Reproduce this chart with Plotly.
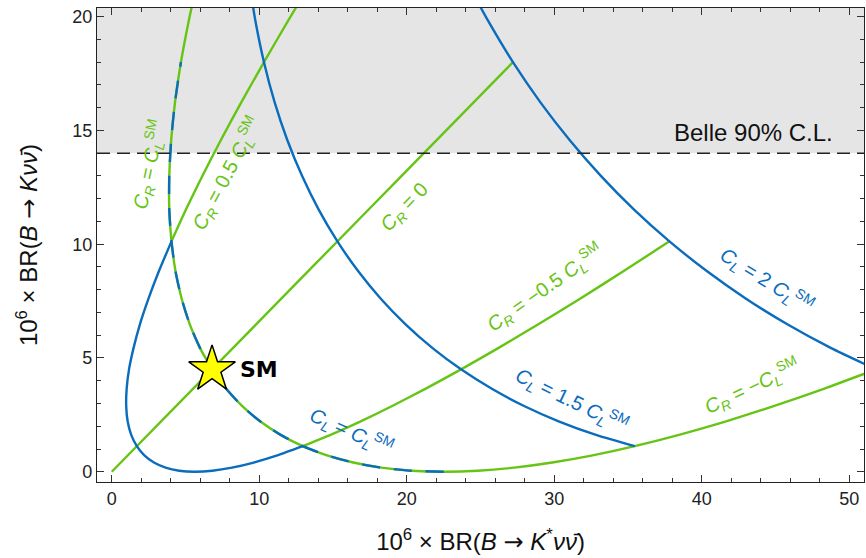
import plotly.graph_objects as go

# ---- branching-ratio trajectories (10^6 x BR), x = B->K* nu nu, y = B->K nu nu ----
# C_L = 0.5 C_L^SM, C_R scanned from -C_L^SM to +C_L^SM
cl05_x = [12.95, 11.22, 9.62, 8.15, 6.82, 5.63, 4.57, 3.65, 2.86, 2.21, 1.70,
          1.32, 1.08, 0.98, 1.01, 1.17, 1.48, 1.91, 2.49, 3.20, 4.05]
cl05_y = [1.125, 0.72, 0.405, 0.18, 0.045, 0.0, 0.045, 0.18, 0.405, 0.72, 1.125,
          1.62, 2.205, 2.88, 3.645, 4.5, 5.445, 6.48, 7.605, 8.82, 10.125]

# C_L = C_L^SM
cl10_x = [22.51, 20.33, 18.28, 16.37, 14.59, 12.95, 11.45, 10.08, 8.85, 7.76, 6.80,
          5.98, 5.29, 4.74, 4.32, 4.05, 3.90, 3.90, 4.03, 4.29, 4.69]
cl10_y = [0.0, 0.045, 0.18, 0.405, 0.72, 1.125, 1.62, 2.205, 2.88, 3.645, 4.5,
          5.445, 6.48, 7.605, 8.82, 10.125, 11.52, 13.005, 14.58, 16.245, 18.0]

# C_L = 1.5 C_L^SM
cl15_x = [35.46, 32.83, 30.34, 27.99, 25.77, 23.68, 21.73, 19.92, 18.24, 16.70,
          15.30, 14.03, 12.90, 11.90, 11.04, 10.32, 9.73, 9.49]
cl15_y = [1.125, 1.62, 2.205, 2.88, 3.645, 4.5, 5.445, 6.48, 7.605, 8.82,
          10.125, 11.52, 13.005, 14.58, 16.245, 18.0, 19.845, 20.80]

# C_L = 2 C_L^SM
cl20_x = [51.82, 48.74, 45.80, 43.00, 40.34, 37.81, 35.41, 33.16, 31.04, 29.05,
          27.20, 25.49, 24.68]
cl20_y = [4.5, 5.445, 6.48, 7.605, 8.82, 10.125, 11.52, 13.005, 14.58, 16.245,
          18.0, 19.845, 20.80]

# C_R = C_L^SM
crp10_x = [6.80, 5.98, 5.29, 4.74, 4.32, 4.05, 3.90, 3.90, 4.03, 4.29, 4.69, 5.23, 5.55]
crp10_y = [4.5, 5.445, 6.48, 7.605, 8.82, 10.125, 11.52, 13.005, 14.58, 16.245,
           18.0, 19.845, 20.80]

# C_R = 0.5 C_L^SM
crp05_x = [4.05, 5.03, 6.15, 7.40, 8.79, 10.32, 11.98, 12.86]
crp05_y = [10.125, 11.52, 13.005, 14.58, 16.245, 18.0, 19.845, 20.80]

# C_R = 0
cr00_x = [0.0, 6.8, 13.6, 20.4, 27.2]
cr00_y = [0.0, 4.5, 9.0, 13.5, 18.0]

# C_R = -0.5 C_L^SM
crm05_x = [12.95, 14.83, 16.84, 18.98, 21.26, 23.68, 26.23, 28.92, 31.75, 34.71, 37.81]
crm05_y = [1.125, 1.62, 2.205, 2.88, 3.645, 4.5, 5.445, 6.48, 7.605, 8.82, 10.125]

# C_R = -C_L^SM
crm10_x = [6.80, 7.76, 8.85, 10.08, 11.45, 12.95, 14.59, 16.37, 18.28, 20.33, 22.51,
           24.83, 27.28, 29.87, 32.60, 35.46, 38.46, 41.60, 44.87, 48.27, 51.82]
crm10_y = [4.5, 3.645, 2.88, 2.205, 1.62, 1.125, 0.72, 0.405, 0.18, 0.045, 0.0,
           0.045, 0.18, 0.405, 0.72, 1.125, 1.62, 2.205, 2.88, 3.645, 4.5]

sm_point = (6.8, 4.5)
belle_limit = 14.0

BLUE = "#0a6cbd"
GREEN = "#66c414"
FONT = "Liberation Sans"
LW = 2.4

fig = go.Figure()


def curve(x, y, color, dash="solid"):
    fig.add_trace(go.Scatter(
        x=x, y=y, mode="lines", hoverinfo="skip",
        line=dict(color=color, width=LW, shape="spline", smoothing=0.6, dash=dash),
        showlegend=False, cliponaxis=True,
    ))


# green C_R contours
curve(crp10_x, crp10_y, GREEN)
curve(crp05_x, crp05_y, GREEN)
curve(cr00_x, cr00_y, GREEN)
curve(crm05_x, crm05_y, GREEN)
curve(crm10_x, crm10_y, GREEN)
# blue C_L contours
curve(cl05_x, cl05_y, BLUE)
curve(cl15_x, cl15_y, BLUE)
curve(cl20_x, cl20_y, BLUE)
# C_L = C_L^SM coincides with C_R = +-C_L^SM: drawn dashed over the green
curve(cl10_x, cl10_y, BLUE, dash="18px,14px")

# SM star
fig.add_trace(go.Scatter(
    x=[sm_point[0]], y=[sm_point[1]], mode="markers", hoverinfo="skip",
    marker=dict(symbol="star", size=35, color="#ffff00",
                line=dict(color="black", width=1.5)),
    showlegend=False,
))

# excluded region above the Belle bound
fig.add_shape(type="rect", xref="paper", x0=0, x1=1, yref="y",
              y0=belle_limit, y1=21, fillcolor="#e5e5e5",
              line_width=0, layer="below")
fig.add_shape(type="line", xref="paper", x0=0, x1=1, yref="y",
              y0=belle_limit, y1=belle_limit,
              line=dict(color="#222222", width=1.4, dash="13px,7px"))

CR = "<i>C</i><sub><i>R</i></sub>"
CL = "<i>C</i><sub><i>L</i></sub>"
CLSM = "<i>C</i><sub><i>L</i></sub><sup>SM</sup>"

labels = [
    (2.55, 13.5, f"{CR} = {CLSM}", GREEN, -78),
    (7.8, 13.1, f"{CR} = 0.5 {CLSM}", GREEN, -62),
    (19.9, 11.6, f"{CR} = 0", GREEN, -46),
    (29.4, 8.1, f"{CR} = −0.5 {CLSM}", GREEN, -35),
    (44.4, 8.4, f"{CL} = 2 {CLSM}", BLUE, 32),
    (31.2, 3.15, f"{CL} = 1.5 {CLSM}", BLUE, 26),
    (16.2, 1.75, f"{CL} = {CLSM}", BLUE, 24),
    (43.4, 3.75, f"{CR} = −{CLSM}", GREEN, -25),
]
for x, y, text, color, ang in labels:
    fig.add_annotation(x=x, y=y, text=text, showarrow=False, textangle=ang,
                       font=dict(family=FONT, size=20, color=color))

fig.add_annotation(x=49.0, y=14.9, text="Belle 90% C.L.", showarrow=False,
                   xanchor="right", font=dict(family=FONT, size=24, color="#111111"))
fig.add_annotation(x=8.55, y=4.48, text="<b>SM</b>", showarrow=False,
                   xanchor="left", font=dict(family="DejaVu Sans", size=22, color="black"))

axis_common = dict(
    showline=True, linecolor="#222222", linewidth=1.3, mirror="ticks",
    ticks="inside", ticklen=7, tickwidth=1.2, tickcolor="#333333",
    showgrid=False, zeroline=False,
    tickfont=dict(family=FONT, size=18, color="#222222"),
)

ARROW = "<span style='font-family:DejaVu Sans'>→</span>"

fig.update_xaxes(
    range=[-1.0, 51.0], tick0=0, dtick=10,
    minor=dict(ticks="inside", ticklen=4, dtick=2, tick0=0, tickcolor="#333333", showgrid=False),
    title=dict(text=f"10<sup>6</sup> × BR(<i>B</i> {ARROW} <i>K</i><sup>*</sup><i>ν</i><i>ν̄</i>)",
               font=dict(family=FONT, size=24, color="#111111"), standoff=25),
    **axis_common,
)
fig.update_yaxes(
    range=[-0.45, 20.38], tick0=0, dtick=5,
    minor=dict(ticks="inside", ticklen=4, dtick=1, tick0=0, tickcolor="#333333", showgrid=False),
    title=dict(text=f"10<sup>6</sup> × BR(<i>B</i> {ARROW} <i>K</i><i>ν</i><i>ν̄</i>)",
               font=dict(family=FONT, size=24, color="#111111"), standoff=27),
    **axis_common,
)

fig.update_layout(
    width=866, height=558,
    margin=dict(l=97, r=2, t=8, b=76),
    plot_bgcolor="white", paper_bgcolor="white",
)

fig.write_html("out.html")
